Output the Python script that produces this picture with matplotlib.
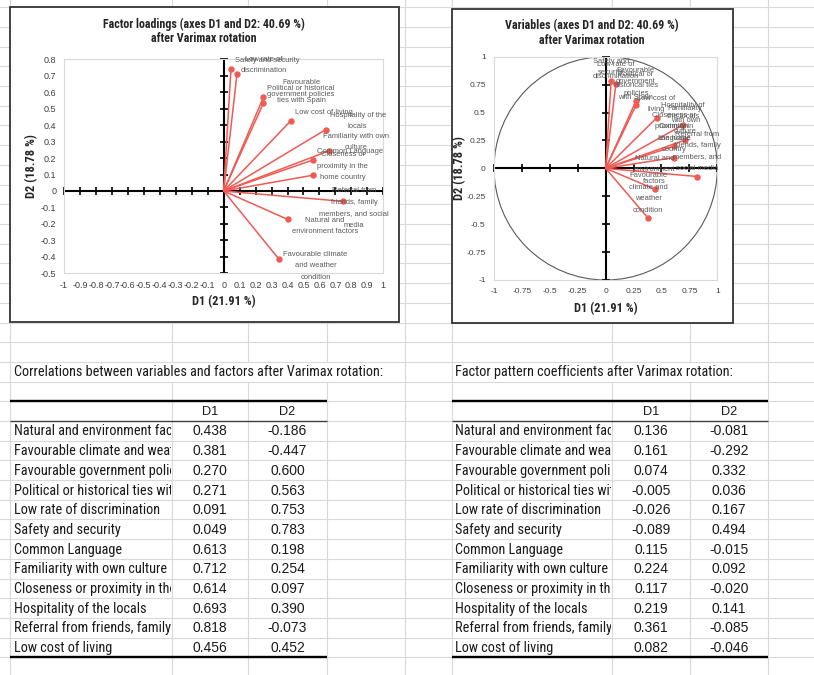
import matplotlib
matplotlib.use("Agg")
import matplotlib.pyplot as plt
from matplotlib import font_manager
from matplotlib.patches import Rectangle, Circle
from matplotlib.transforms import Bbox, TransformedBbox
import numpy as np

# ---------------------------------------------------------------- data
variables = [
    "Natural and environment factors",
    "Favourable climate and weather condition",
    "Favourable government policies",
    "Political or historical ties with Spain",
    "Low rate of discrimination",
    "Safety and security",
    "Common Language",
    "Familiarity with own culture",
    "Closeness or proximity in the home country",
    "Hospitality of the locals",
    "Referral from friends, family members, and social media",
    "Low cost of living",
]

# correlations between variables and factors after Varimax rotation
corr_d1 = [0.438, 0.381, 0.270, 0.271, 0.091, 0.049, 0.613, 0.712, 0.614, 0.693, 0.818, 0.456]
corr_d2 = [-0.186, -0.447, 0.600, 0.563, 0.753, 0.783, 0.198, 0.254, 0.097, 0.390, -0.073, 0.452]

# factor pattern coefficients after Varimax rotation
pattern_d1 = [0.136, 0.161, 0.074, -0.005, -0.026, -0.089, 0.115, 0.224, 0.117, 0.219, 0.361, 0.082]
pattern_d2 = [-0.081, -0.292, 0.332, 0.036, 0.167, 0.494, -0.015, 0.092, -0.020, 0.141, -0.085, -0.046]

# factor loadings after Varimax rotation
loading_d1 = [0.402, 0.348, 0.249, 0.249, 0.084, 0.046, 0.561, 0.659, 0.561, 0.638, 0.749, 0.421]
loading_d2 = [-0.173, -0.416, 0.569, 0.533, 0.713, 0.742, 0.189, 0.244, 0.096, 0.372, -0.063, 0.427]

# point labels as wrapped in each chart
loading_labels = [
    "Natural and\nenvironment factors",
    "Favourable climate\nand weather\ncondition",
    "Favourable\ngovernment policies",
    "Political or historical\nties with Spain",
    "Low rate of\ndiscrimination",
    "Safety and security",
    "Common Language",
    "Familiarity with own\nculture",
    "Closeness or\nproximity in the\nhome country",
    "Hospitality of the\nlocals",
    "Referral from\nfriends, family\nmembers, and social\nmedia",
    "Low cost of living",
]
circle_labels = [
    "Natural and\nenvironment\nfactors",
    "Favourable\nclimate and\nweather\ncondition",
    "Favourable\ngovernment\npolicies",
    "Political or\nhistorical ties\nwith Spain",
    "Low rate of\ndiscrimination",
    "Safety and\nsecurity",
    "Common\nLanguage",
    "Familiarity\nwith own\nculture",
    "Closeness or\nproximity in\nthe home\ncountry",
    "Hospitality of\nthe locals",
    "Referral from\nfriends, family\nmembers, and\nsocial media",
    "Low cost of\nliving",
]

columns = ["D1", "D2"]
x_axis_title = "D1 (21.91 %)"
y_axis_title = "D2 (18.78 %)"
loadings_title = ["Factor loadings (axes D1 and D2: 40.69 %)", "after Varimax rotation"]
circle_title = ["Variables (axes D1 and D2: 40.69 %)", "after Varimax rotation"]
corr_table_title = "Correlations between variables and factors after Varimax rotation:"
pattern_table_title = "Factor pattern coefficients after Varimax rotation:"

loading_xticks = np.round(np.arange(-1.0, 1.0001, 0.1), 1) + 0.0
loading_yticks = np.round(np.arange(-0.5, 0.8001, 0.1), 1) + 0.0
circle_ticks = np.arange(-1.0, 1.0001, 0.25) + 0.0

# ---------------------------------------------------------------- style
FIG_W, FIG_H = 814, 675
GRID = "#d9d9d9"
RED = "#ef5a54"
LABEL_GREY = "#595959"
TICK_GREY = "#3f3f3f"
TITLE_COL = "#262626"

plt.rcParams["font.family"] = ["Liberation Sans", "DejaVu Sans"]

available = {f.name for f in font_manager.fontManager.ttflist}
NARROW = next((n for n in ["Liberation Sans Narrow", "Roboto Condensed",
                           "Open Sans Condensed", "Noto Sans Condensed"]
               if n in available), "Liberation Sans")

fig = plt.figure(figsize=(FIG_W / 100, FIG_H / 100), dpi=100, facecolor="white")
renderer = fig.canvas.get_renderer()


def text_width(text, family, weight, size):
    t = fig.text(0, 0, text, fontsize=size, family=family, weight=weight)
    w = t.get_window_extent(renderer).width
    t.remove()
    return w


def fit_size(text, family, weight, target_px, ref=10.0):
    return ref * target_px / text_width(text, family, weight, ref)


def cell_prefix(text, family, size, max_px):
    """Shortest prefix reaching the cell edge; its last glyph is clipped by the cell."""
    for n in range(1, len(text) + 1):
        if text_width(text[:n], family, "normal", size) >= max_px:
            return text[:n]
    return text


def px_axes(x0, y0, x1, y1):
    return fig.add_axes([x0 / FIG_W, 1 - y1 / FIG_H, (x1 - x0) / FIG_W, (y1 - y0) / FIG_H])


def tick_text(v):
    return f"{v:g}"


# ---------------------------------------------------------------- sheet
sheet = fig.add_axes([0, 0, 1, 1])
sheet.set_xlim(0, FIG_W)
sheet.set_ylim(FIG_H, 0)
sheet.axis("off")

COL_EDGES = [10, 171.7, 248.3, 326.7, 405, 451.7, 611.7, 690, 768.3]
ROW0, ROW_H = 7.3, 19.7
rows_y = ROW0 + ROW_H * np.arange(0, 35)


def row_top(i):
    return ROW0 + ROW_H * i


TITLE_ROW = 18
HEADER_ROW = 20
hidden_in_title = {171.7, 248.3, 326.7, 611.7, 690}

for y in rows_y:
    sheet.plot([0, FIG_W], [y, y], color=GRID, lw=0.8, zorder=0)
for x in COL_EDGES:
    if x in hidden_in_title:
        sheet.plot([x, x], [0, row_top(TITLE_ROW)], color=GRID, lw=0.8, zorder=0)
        sheet.plot([x, x], [row_top(TITLE_ROW + 1), FIG_H], color=GRID, lw=0.8, zorder=0)
    else:
        sheet.plot([x, x], [0, FIG_H], color=GRID, lw=0.8, zorder=0)

# chart frames
sheet.add_patch(Rectangle((9.5, 7.0), 389.5, 315.0, fc="white", ec="#333333", lw=1.3, zorder=2))
sheet.add_patch(Rectangle((451.7, 9.3), 281.0, 314.0, fc="white", ec="#333333", lw=1.3, zorder=2))

# ---------------------------------------------------------------- tables
table_size = fit_size(corr_table_title, NARROW, "normal", 370)
num_size = 10.0


def draw_table(x0, x_split, x_mid, x1, title, d1, d2):
    sheet.text(x0 + 3.6, row_top(TITLE_ROW) + ROW_H / 2 + 0.5, title, fontsize=table_size,
               family=NARROW, ha="left", va="center", color="#1a1a1a", zorder=4)
    y_top = row_top(HEADER_ROW)
    sheet.plot([x0, x1], [y_top, y_top], color="black", lw=1.7, zorder=3, solid_capstyle="butt")
    c1 = (x_split + x_mid) / 2
    c2 = (x_mid + x1) / 2
    for cx, name in zip([c1, c2], columns):
        sheet.text(cx, y_top + ROW_H / 2 + 1, name, fontsize=9.2, ha="center", va="center",
                   color="#1a1a1a", zorder=4)
    y_head = row_top(HEADER_ROW + 1)
    sheet.plot([x0, x1], [y_head, y_head], color="#404040", lw=1.0, zorder=3, solid_capstyle="butt")
    cell_right = x_split - 1.0
    for i, (name, a, b) in enumerate(zip(variables, d1, d2)):
        yc = row_top(HEADER_ROW + 1 + i) + ROW_H / 2 + 0.6
        shown = cell_prefix(name, NARROW, table_size, cell_right - (x0 + 3.6))
        t = sheet.text(x0 + 3.6, yc, shown, fontsize=table_size, family=NARROW,
                       ha="left", va="center", color="#1a1a1a", zorder=4)
        clip = TransformedBbox(Bbox([[x0, row_top(HEADER_ROW + 1 + i)],
                                     [cell_right, row_top(HEADER_ROW + 2 + i)]]),
                               sheet.transData)
        t.set_clip_box(clip)
        t.set_clip_on(True)
        sheet.text(c1, yc, f"{a:.3f}", fontsize=num_size, ha="center", va="center",
                   color="#1a1a1a", zorder=4)
        sheet.text(c2, yc, f"{b:.3f}", fontsize=num_size, ha="center", va="center",
                   color="#1a1a1a", zorder=4)
    y_bot = row_top(HEADER_ROW + 1 + len(variables))
    sheet.plot([x0, x1], [y_bot, y_bot], color="black", lw=1.7, zorder=3, solid_capstyle="butt")


draw_table(10, 171.7, 248.3, 326.7, corr_table_title, corr_d1, corr_d2)
draw_table(451.7, 611.7, 690, 768.3, pattern_table_title, pattern_d1, pattern_d2)

# ---------------------------------------------------------------- chart titles
title_size = fit_size(loadings_title[0], NARROW, "bold", 204)
axis_size = fit_size(x_axis_title, NARROW, "bold", 63.7)

for cx, y1, lines in [(204.2, 24.0, loadings_title), (592.2, 26.0, circle_title)]:
    sheet.text(cx, y1, lines[0], fontsize=title_size, family=NARROW, weight="bold",
               ha="center", va="center", color=TITLE_COL, zorder=4)
    sheet.text(cx, y1 + 14.4, lines[1], fontsize=title_size, family=NARROW, weight="bold",
               ha="center", va="center", color=TITLE_COL, zorder=4)

for cx, cy, ylx, yly in [(223.7, 301.7, 31.7, 166.5), (605.7, 308.3, 460.0, 168.0)]:
    sheet.text(cx, cy, x_axis_title, fontsize=axis_size, family=NARROW, weight="bold",
               ha="center", va="center", color=TITLE_COL, zorder=4)
    sheet.text(ylx, yly, y_axis_title, fontsize=axis_size, family=NARROW, weight="bold",
               ha="center", va="center", rotation=90, color=TITLE_COL, zorder=4)


# ---------------------------------------------------------------- charts
def base_chart(ax, xlim, ylim, xticks, yticks, tick_size, pad):
    ax.set_xlim(*xlim)
    ax.set_ylim(*ylim)
    ax.set_facecolor("white")
    for s in ax.spines.values():
        s.set_color(GRID)
        s.set_linewidth(0.8)
    ax.set_xticks(xticks)
    ax.set_xticklabels([tick_text(v) for v in xticks])
    ax.set_yticks(yticks)
    ax.set_yticklabels([tick_text(v) for v in yticks])
    ax.tick_params(length=0, pad=pad, labelsize=tick_size, labelcolor=TICK_GREY)
    ax.axhline(0, color="black", lw=1.5, zorder=2)
    ax.axvline(0, color="black", lw=1.5, zorder=2)
    ax.plot(xticks, np.zeros_like(xticks), ls="none", marker="|", ms=6, mew=1.2,
            color="black", zorder=2, clip_on=False)
    ax.plot(np.zeros_like(yticks), yticks, ls="none", marker="_", ms=6, mew=1.2,
            color="black", zorder=2, clip_on=False)


def vectors(ax, xs, ys):
    for x, y in zip(xs, ys):
        ax.plot([0, x], [0, y], color=RED, lw=1.1, zorder=3, solid_capstyle="round")
    ax.plot(xs, ys, ls="none", marker="o", ms=3.6, color=RED, zorder=4)


# factor loadings chart
ax1 = px_axes(64, 59.3, 383.3, 273.3)
base_chart(ax1, (-1, 1), (-0.5, 0.8), loading_xticks, loading_yticks, 6.5, 5.6)
vectors(ax1, loading_d1, loading_d2)
left_labels = []
for x, y, lab in zip(loading_d1, loading_d2, loading_labels):
    dy = 8.7 if y >= 0 else -6.5
    a = ax1.annotate(lab, (x, y), xytext=(4, dy), textcoords="offset pixels",
                     ha="left", va="center", ma="center", fontsize=5.4,
                     color=LABEL_GREY, linespacing=1.9, zorder=5,
                     annotation_clip=False, clip_on=False)
    left_labels.append(a)

# correlation circle chart
ax2 = px_axes(494, 56.7, 717.3, 280)
base_chart(ax2, (-1, 1), (-1, 1), circle_ticks, circle_ticks, 6.0, 6.0)
ax2.add_patch(Circle((0, 0), 1.0, fill=False, ec="#595959", lw=0.8, zorder=1))
vectors(ax2, corr_d1, corr_d2)
for x, y, lab in zip(corr_d1, corr_d2, circle_labels):
    ax2.annotate(lab, (x, y), xytext=(0, 4.5), textcoords="offset pixels",
                 ha="center", va="bottom", ma="center", fontsize=5.4,
                 color=LABEL_GREY, linespacing=1.9, zorder=5,
                 annotation_clip=False, clip_on=False)

# keep loading labels inside the chart frame on the right
fig.canvas.draw()
limit = 389.0
for a in left_labels:
    bb = a.get_window_extent(renderer)
    over = bb.x1 - limit
    if over > 0:
        dx, dy = a.xyann
        a.xyann = (dx - over, dy)

fig.savefig("out.png", dpi=100, facecolor="white")
